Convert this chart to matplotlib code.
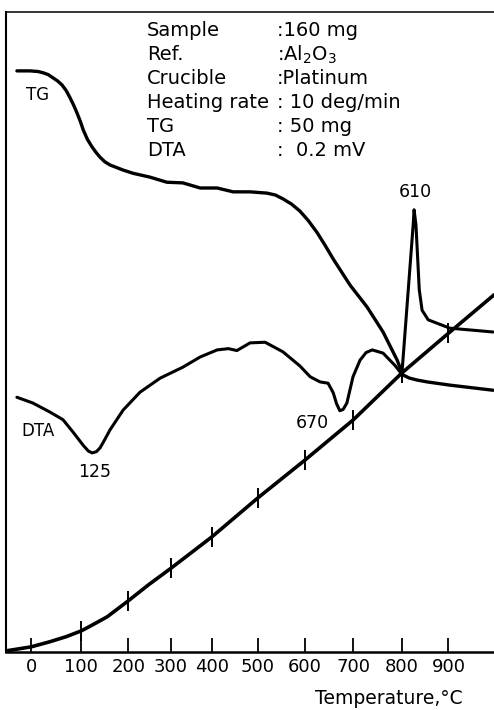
import numpy as np
import matplotlib
matplotlib.use("Agg")
import matplotlib.pyplot as plt

plt.rcParams['font.family'] = ['DejaVu Sans']

# ---- data (x = time in minutes, y = recorder deflection in % of chart height) ----
tick_temps = [0, 100, 200, 300, 400, 500, 600, 700, 800, 900]
tick_times = [0.0, 10.7, 20.7, 29.8, 38.5, 48.3, 58.3, 68.6, 78.9, 88.8]

temp_t = [-5.1, 0.0, 4.0, 7.5, 10.7, 13.5, 16.2, 20.7, 25.0, 29.8, 38.5, 48.3, 58.3, 68.6, 78.9, 88.8, 98.5]
temp_v = [0.2, 0.8, 1.6, 2.4, 3.3, 4.4, 5.5, 8.0, 10.5, 13.1, 18.0, 24.1, 30.0, 36.3, 43.6, 49.8, 55.8]

tg_t = [-3.0, -0.2, 1.5, 2.6, 3.7, 4.7, 5.7, 6.6, 7.5, 8.3, 9.1, 9.8, 10.5, 11.1, 12.0, 13.0,
        13.9, 14.7, 15.7, 16.8, 18.2, 19.6, 21.7, 25.3, 28.9, 32.3, 36.0, 39.6, 43.0, 46.6,
        50.2, 52.0, 53.6, 55.4, 57.2, 59.0, 60.9, 62.6, 64.3, 67.9, 71.5, 74.9, 77.9, 79.1,
        80.5, 82.1, 84.3, 89.1, 98.3]
tg_v = [90.8, 90.8, 90.7, 90.5, 90.2, 89.7, 89.2, 88.6, 87.7, 86.6, 85.4, 84.2, 82.9, 81.6,
        80.1, 78.9, 78.0, 77.3, 76.6, 76.1, 75.7, 75.3, 74.8, 74.2, 73.4, 73.3, 72.5, 72.5,
        71.9, 71.9, 71.7, 71.4, 70.8, 70.0, 68.9, 67.4, 65.5, 63.5, 61.4, 57.3, 53.9, 50.0,
        45.6, 43.3, 42.8, 42.5, 42.2, 41.7, 40.9]

dta_t = [-3.0, 0.4, 4.0, 6.8, 8.9, 11.1, 12.2, 13.0, 13.9, 14.7, 15.7, 16.8, 19.6, 23.2, 27.5,
         32.3, 36.0, 39.6, 42.0, 43.8, 46.6, 49.8, 53.6, 57.2, 59.4, 61.5, 63.2, 64.3, 65.0,
         65.7, 66.4, 67.2, 68.5, 70.0, 71.3, 72.6, 74.9, 77.4, 78.9, 81.3, 81.5, 81.9, 82.6,
         83.2, 84.5, 89.1, 98.3]
dta_v = [39.8, 38.9, 37.5, 36.3, 34.4, 32.3, 31.4, 31.1, 31.3, 31.9, 33.2, 34.7, 37.8, 40.6,
         42.8, 44.5, 46.1, 47.2, 47.4, 47.1, 48.3, 48.4, 46.9, 44.7, 43.0, 42.2, 42.0, 40.5,
         38.8, 37.7, 37.9, 38.9, 43.0, 45.6, 46.8, 47.2, 46.7, 44.8, 43.4, 66.7, 69.1, 66.7,
         56.6, 53.4, 51.9, 50.6, 50.0]

peak_labels = ["125", "670", "610"]
info_keys = ["Sample", "Ref.", "Crucible", "Heating rate", "TG", "DTA"]
info_vals = [":160 mg", ":Al$_2$O$_3$", ":Platinum", ": 10 deg/min", ": 50 mg", ":  0.2 mV"]

# ---- figure ----
W, H = 494, 710
fig = plt.figure(figsize=(W / 100, H / 100), dpi=100)
ax = fig.add_axes([6 / W, (H - 652) / H, (W - 6) / W, (652 - 12) / H])
ax.set_xlim(-5.32, 98.5)
ax.set_ylim(0, 100)

ax.plot(temp_t, temp_v, color='black', lw=2.6, solid_joinstyle='round', solid_capstyle='round')
ax.plot(tg_t, tg_v, color='black', lw=2.4, solid_joinstyle='round', solid_capstyle='round')
ax.plot(dta_t, dta_v, color='black', lw=2.2, solid_joinstyle='round', solid_capstyle='round')

# temperature marks on the temperature curve
curve_ticks = np.interp(tick_times[1:], temp_t, temp_v)
ax.plot(tick_times[1:], curve_ticks, linestyle='none', marker='|', markersize=15,
        markeredgewidth=1.4, color='black')

ax.set_yticks([])
ax.set_xticks(tick_times, labels=[str(t) for t in tick_temps])
ax.tick_params(axis='x', direction='in', length=10, width=1.3, pad=4, labelsize=13)
ax.spines['right'].set_visible(False)
ax.spines['left'].set_linewidth(1.5)
ax.spines['bottom'].set_linewidth(1.8)
ax.spines['top'].set_linewidth(1.1)

# curve labels
ax.text(1.3, 87.0, "TG", fontsize=12, ha='center', va='center')
ax.text(1.5, 34.5, "DTA", fontsize=12, ha='center', va='center')
ax.text(13.6, 28.1, peak_labels[0], fontsize=12.5, ha='center', va='center')
ax.text(59.8, 35.8, peak_labels[1], fontsize=12.5, ha='center', va='center')
ax.text(81.7, 71.9, peak_labels[2], fontsize=12.5, ha='center', va='center')

# info block
rows_px = [31, 55, 79, 103, 127, 151]
for k, v, py in zip(info_keys, info_vals, rows_px):
    fig.text(147 / W, 1 - py / H, k, fontsize=14, ha='left', va='center')
    fig.text(277 / W, 1 - py / H, v, fontsize=14, ha='left', va='center')

fig.text(463 / W, 1 - 699 / H, "Temperature,°C", fontsize=13.5, ha='right', va='center')

fig.savefig("out.png", dpi=100)
